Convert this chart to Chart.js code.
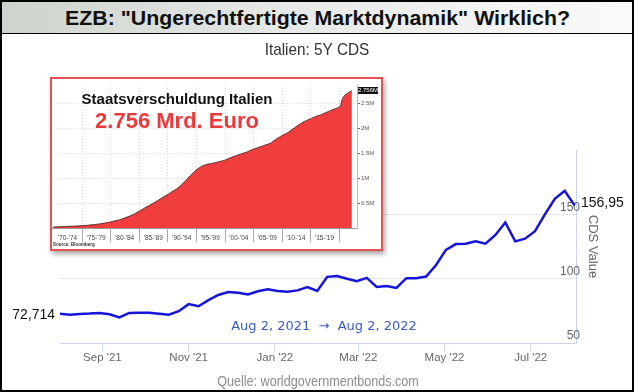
<!DOCTYPE html>
<html>
<head>
<meta charset="utf-8">
<script src="https://cdn.jsdelivr.net/npm/chart.js@4.4.0/dist/chart.umd.min.js"></script>
<style>
body{margin:0;background:#fff;}
#wrap{position:relative;width:634px;height:392px;overflow:hidden;font-family:'Liberation Sans',Arial,sans-serif;}
#frame{position:absolute;left:0;top:0;width:634px;height:392px;box-sizing:border-box;border:2px solid #000;}
#head{position:absolute;left:0;top:0;width:634px;height:34px;box-sizing:border-box;border:2px solid #000;border-bottom:1px solid #000;
  background:linear-gradient(to right,#cdd3cd,#e6e9e6 45%,#fafafa);}
#headText{position:absolute;left:0;right:0;top:4px;text-align:center;white-space:nowrap;}
#headText span{display:inline-block;font:bold 21px 'Liberation Sans',Arial,sans-serif;color:#111;transform-origin:50% 50%;}
#main{position:absolute;left:0;top:0;}
#inset{position:absolute;left:50px;top:77px;width:333px;height:174px;box-sizing:border-box;border:2px solid #e25252;background:#fff;
  box-shadow:2px 3px 5px rgba(0,0,0,.35);}
#debt{position:absolute;left:0;top:0;}
</style>
</head>
<body>
<div id="wrap">
  <div id="frame"></div>
  <div id="head"><div id="headText"><span id="ttl">EZB: "Ungerechtfertigte Marktdynamik" Wirklich?</span></div></div>
  <canvas id="main" width="634" height="392"></canvas>
  <div id="inset"><canvas id="debt" width="329" height="170"></canvas></div>
</div>
<script>
// ---- main chart data (Italien 5Y CDS, weekly) ----
const rangeStart = '2021-08-02'
const rangeEnd = '2022-08-02'
const cdsDates = ['2021-08-02','2021-08-09','2021-08-16','2021-08-23','2021-08-30','2021-09-06','2021-09-13','2021-09-20','2021-09-27',
  '2021-10-04','2021-10-11','2021-10-18','2021-10-25','2021-11-01','2021-11-08','2021-11-15','2021-11-22','2021-11-29',
  '2021-12-06','2021-12-13','2021-12-20','2021-12-27','2022-01-03','2022-01-10','2022-01-17','2022-01-24','2022-01-31',
  '2022-02-07','2022-02-14','2022-02-21','2022-02-28','2022-03-07','2022-03-14','2022-03-21','2022-03-28','2022-04-04',
  '2022-04-11','2022-04-18','2022-04-25','2022-05-02','2022-05-09','2022-05-16','2022-05-23','2022-05-30','2022-06-06',
  '2022-06-13','2022-06-20','2022-06-27','2022-07-04','2022-07-11','2022-07-18','2022-07-25','2022-08-01']
const cdsValues = [72.714,72.0,72.6,72.9,73.4,72.3,69.9,73.4,73.5,73.6,72.8,72.0,74.7,80.2,78.6,83.3,87.3,89.6,
  89.1,87.8,90.2,91.7,90.4,89.9,90.9,93.5,90.4,101.4,102.0,99.9,98.0,100.6,93.5,94.3,92.8,100.4,100.4,101.7,
  110.6,122.4,126.9,127.2,129.0,127.2,134.0,143.7,129.0,131.1,136.9,150.0,162.0,168.3,156.95]
const monthTickDates = ['2021-09-01','2021-11-01','2022-01-01','2022-03-01','2022-05-01','2022-07-01']
const monthTickLabels = ["Sep '21","Nov '21","Jan '22","Mar '22","May '22","Jul '22"]
const cdsTicks = [50,100,150,200]
const firstLabel = '72,714'
const lastLabel = '156,95'
const rangeText = 'Aug 2, 2021  \u2192  Aug 2, 2022'
const subTitle = 'Italien: 5Y CDS'
const sourceText = 'Quelle: worldgovernmentbonds.com'

// ---- inset data (Staatsverschuldung Italien, Bio. Euro) ----
const debtYears = [1970,1972,1974,1976,1978,1980,1982,1984,1986,1988,1990,1992,1993,1994,1995,1996,1997,1998,1999,
  2000,2001,2002,2003,2004,2005,2006,2007,2008,2009,2010,2011,2012,2013,2014,2015,2016,2017,2018,2019,
  2020,2020.3,2020.6,2021,2021.5,2022,2022.3]
const debtValues = [0.02,0.03,0.04,0.055,0.08,0.12,0.18,0.27,0.40,0.53,0.67,0.82,0.93,1.05,1.16,1.24,1.28,1.30,1.33,
  1.36,1.41,1.45,1.49,1.53,1.58,1.62,1.66,1.70,1.78,1.85,1.91,1.99,2.07,2.14,2.19,2.24,2.28,2.33,2.38,
  2.42,2.45,2.58,2.66,2.70,2.74,2.756]
const periodStarts = [1970,1975,1980,1985,1990,1995,2000,2005,2010,2015]
const periodLabels = ["'70-'74","'75-'79","'80-'84","'85-'89","'90-'94","'95-'99","'00-'04","'05-'09","'10-'14","'15-'19"]
const debtTicks = [0.5,1,1.5,2,2.5]
const debtTickLabels = ['0.5M','1M','1.5M','2M','2.5M']
const debtTitle = 'Staatsverschuldung Italien'
const debtBig = '2.756 Mrd. Euro'
const debtTag = '2.756M'

// title bar fit
const ttl = document.getElementById('ttl')
ttl.style.transform = 'scaleX(' + (505 / ttl.offsetWidth) + ')'

function dayOf(s){
  return (Date.parse(s) - Date.parse(rangeStart)) / 864e5
}

function narrowText(ctx, text, x, y, font, color, sx){
  ctx.save()
  ctx.font = font
  ctx.fillStyle = color
  ctx.textAlign = 'center'
  ctx.textBaseline = 'middle'
  ctx.translate(x, y)
  ctx.scale(sx, 1)
  ctx.fillText(text, 0, 0)
  ctx.restore()
}

const cdsText = {
  id: 'cdsText',
  afterDraw(chart){
    const ctx = chart.ctx
    const xs = chart.scales.x, ys = chart.scales.y
    narrowText(ctx, subTitle, 317, 50, '17px "Liberation Sans"', '#333', 0.9)
    narrowText(ctx, sourceText, 318, 382, '14px "Liberation Sans"', '#8c8c8c', 0.9)
    ctx.save()
    ctx.font = '14px "Liberation Sans"'
    ctx.fillStyle = '#111'
    ctx.textBaseline = 'middle'
    ctx.textAlign = 'right'
    ctx.fillText(firstLabel, 55, ys.getPixelForValue(cdsValues[0]) + 1)
    ctx.textAlign = 'left'
    ctx.fillText(lastLabel, 581, ys.getPixelForValue(cdsValues[cdsValues.length - 1]) - 2)
    ctx.font = '13px "DejaVu Sans"'
    ctx.fillStyle = '#3a5cc2'
    ctx.textAlign = 'center'
    ctx.fillText(rangeText, 324, 327)
    ctx.restore()
  }
}

new Chart(document.getElementById('main'), {
  type: 'line',
  data: {
    datasets: [{
      data: cdsDates.map((d, i) => ({x: dayOf(d), y: cdsValues[i]})),
      borderColor: '#1414dc',
      borderWidth: 2.5,
      pointRadius: 0,
      tension: 0,
      fill: false
    }]
  },
  options: {
    responsive: false,
    animation: false,
    layout: {padding: {top: 150, left: 60, right: 0, bottom: 0}},
    plugins: {legend: {display: false}, tooltip: {enabled: false}},
    scales: {
      x: {
        type: 'linear',
        min: 0,
        max: dayOf(rangeEnd),
        afterBuildTicks: (s) => { s.ticks = monthTickDates.map(d => ({value: dayOf(d)})) },
        afterFit: (s) => { s.height = 49 },
        ticks: {
          callback: (v, i) => monthTickLabels[i],
          autoSkip: false, maxRotation: 0, padding: 0,
          color: '#666', font: {family: 'Liberation Sans', size: 11.5}
        },
        grid: {drawOnChartArea: false, tickLength: 8, color: '#ccd6eb'},
        border: {color: '#ccd6eb'}
      },
      y: {
        position: 'right',
        min: 50,
        max: 200,
        afterBuildTicks: (s) => { s.ticks = cdsTicks.map(v => ({value: v})) },
        afterFit: (s) => { s.width = 58 },
        ticks: {
          mirror: true, padding: 4, labelOffset: -7,
          callback: (v) => v === 200 ? '' : v,
          color: '#666', font: {family: 'Liberation Sans', size: 12}
        },
        grid: {drawTicks: false, color: (c) => c.tick && c.tick.value === 200 ? 'rgba(0,0,0,0)' : '#e6e6e6'},
        border: {color: '#ccd6eb'},
        title: {display: true, text: 'CDS Value', color: '#666', font: {family: 'Liberation Sans', size: 13}, padding: {top: 34, bottom: 0}}
      }
    }
  },
  plugins: [cdsText]
})

// ---- inset: area chart ----
const debtDeco = {
  id: 'debtDeco',
  beforeDatasetsDraw(chart){
    const ctx = chart.ctx, a = chart.chartArea, xs = chart.scales.x
    ctx.save()
    ctx.strokeStyle = '#d8d8d8'
    ctx.lineWidth = 1
    ctx.setLineDash([1, 2])
    periodStarts.slice(1).concat([2020]).forEach(yr => {
      const px = Math.round(xs.getPixelForValue(yr)) + 0.5
      ctx.beginPath(); ctx.moveTo(px, a.top); ctx.lineTo(px, a.bottom); ctx.stroke()
    })
    ctx.restore()
  },
  afterDraw(chart){
    const ctx = chart.ctx, a = chart.chartArea, xs = chart.scales.x
    ctx.save()
    ctx.strokeStyle = '#aaa'
    ctx.lineWidth = 1
    periodStarts.slice(1).concat([2020]).forEach(yr => {
      const px = Math.round(xs.getPixelForValue(yr)) + 0.5
      ctx.beginPath(); ctx.moveTo(px, a.bottom); ctx.lineTo(px, a.bottom + 14); ctx.stroke()
    })
    ctx.textAlign = 'center'
    ctx.textBaseline = 'middle'
    ctx.font = 'bold 15px "Liberation Sans"'
    ctx.fillStyle = '#111'
    ctx.fillText(debtTitle, 125, 21)
    ctx.font = 'bold 22px "Liberation Sans"'
    ctx.fillStyle = '#ea3a3e'
    ctx.fillText(debtBig, 125, 43)
    // last value tag
    ctx.fillStyle = '#111'
    ctx.fillRect(a.right + 1, 8, 20, 7)
    ctx.fillStyle = '#fff'
    ctx.font = '6px "Liberation Sans"'
    ctx.fillText(debtTag, a.right + 11, 11.5)
    ctx.fillStyle = '#333'
    ctx.font = 'bold 4.5px "Liberation Sans"'
    ctx.textAlign = 'left'
    ctx.fillText('Source: Bloomberg', 1, 166)
    ctx.restore()
  }
}

new Chart(document.getElementById('debt'), {
  type: 'line',
  data: {
    datasets: [{
      data: debtYears.map((y, i) => ({x: y, y: debtValues[i]})),
      borderColor: '#3a1a1a',
      borderWidth: 0.8,
      backgroundColor: '#f03d3d',
      fill: 'origin',
      pointRadius: 0,
      tension: 0.2
    }]
  },
  options: {
    responsive: false,
    animation: false,
    layout: {padding: {top: 6, left: 0, right: 0, bottom: 0}},
    plugins: {legend: {display: false}, tooltip: {enabled: false}},
    scales: {
      x: {
        type: 'linear',
        min: 1969.9,
        max: 2023.2,
        afterBuildTicks: (s) => { s.ticks = periodStarts.map(p => ({value: p + 2.5})) },
        afterFit: (s) => { s.height = 21 },
        ticks: {
          callback: (v, i) => periodLabels[i],
          autoSkip: false, maxRotation: 0, padding: 6,
          color: '#444', font: {family: 'Liberation Sans', size: 6.5}
        },
        grid: {drawOnChartArea: false, drawTicks: false},
        border: {color: '#999'}
      },
      y: {
        position: 'right',
        min: 0,
        max: 2.87,
        afterBuildTicks: (s) => { s.ticks = debtTicks.map(v => ({value: v})) },
        afterFit: (s) => { s.width = 24 },
        ticks: {
          callback: (v, i) => debtTickLabels[i],
          padding: 1, color: '#555', font: {family: 'Liberation Sans', size: 6}
        },
        grid: {color: '#d4d4d4', tickColor: '#666', tickLength: 3},
        border: {color: '#bbb', dash: [1, 2]}
      }
    }
  },
  plugins: [debtDeco]
})
</script>
</body>
</html>
